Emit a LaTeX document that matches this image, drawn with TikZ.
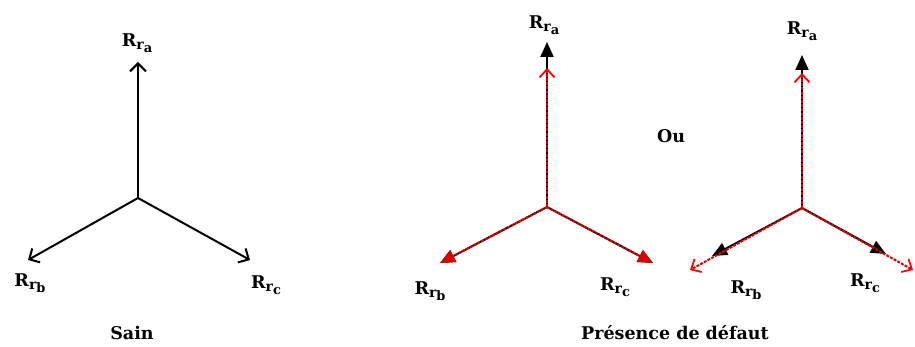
\documentclass[tikz,border=0pt]{standalone}
\usepackage{fontspec}
\setmainfont{DejaVu Serif}
\usetikzlibrary{arrows.meta}

\newcommand{\Rr}[1]{R\raisebox{-0.3ex}{\fontsize{14}{14}\selectfont r\raisebox{-0.45ex}{\fontsize{13}{13}\selectfont #1}}}

\tikzset{
	lbl/.style={font=\fontsize{17.5}{20}\selectfont\bfseries, inner sep=0pt},
	vecsain/.style={draw=black, line width=2pt, -{Straight Barb[length=8pt,width=16pt,line width=2pt]}},
	vecnoir/.style={draw=black, line width=2pt, -{Triangle[length=15pt,width=13pt]}},
	vecrouge/.style={draw=red!85!black, line width=2pt, dash pattern=on 3pt off 1.2pt, -{Straight Barb[length=8pt,width=15pt,line width=1.8pt,red]}},
	vecrougeplein/.style={draw=red!85!black, line width=2pt, dash pattern=on 3pt off 1.2pt, -{Triangle[length=15pt,width=13pt,red!85!black]}}
}

\begin{document}
\begin{tikzpicture}[x=1pt, y=-1pt]
	\useasboundingbox (0,0) rectangle (915,347);

	% 1. Sain - black star
	\coordinate (O1) at (138,198);
	\coordinate (a1) at (138,62);
	\coordinate (b1) at (28,260);
	\coordinate (c1) at (250,260);
	\draw[vecsain] (O1) -- (a1);
	\draw[vecsain] (O1) -- (b1);
	\draw[vecsain] (O1) -- (c1);
	\node[lbl] (la1) at (137,43) {\Rr{a}};
	\node[lbl] (lb1) at (30,283) {\Rr{b}};
	\node[lbl] (lc1) at (266,285) {\Rr{c}};
	\node[lbl] (sain) at (132,333) {Sain};

	% 2. Defaut - red star over black, only phase a differs
	\coordinate (O2) at (547,207);
	\coordinate (na2) at (547,42);
	\coordinate (ra2) at (547,68);
	\coordinate (b2) at (440,263);
	\coordinate (c2) at (653,263);
	\draw[vecnoir] (O2) -- (na2);
	\draw[vecnoir] (O2) -- (b2);
	\draw[vecnoir] (O2) -- (c2);
	\draw[vecrouge] (O2) -- (ra2);
	\draw[vecrougeplein] (O2) -- (b2);
	\draw[vecrougeplein] (O2) -- (c2);
	\node[lbl] (la2) at (544,25) {\Rr{a}};
	\node[lbl] (lb2) at (430,291) {\Rr{b}};
	\node[lbl] (lc2) at (615,287) {\Rr{c}};

	\node[lbl] (ou) at (671,136) {Ou};

	% 3. Defaut - all three phases differ
	\coordinate (O3) at (802,208);
	\coordinate (na3) at (802,55);
	\coordinate (nb3) at (712,256);
	\coordinate (nc3) at (886,254);
	\coordinate (ra3) at (802,73);
	\coordinate (rb3) at (690,270);
	\coordinate (rc3) at (913,270);
	\draw[vecnoir] (O3) -- (na3);
	\draw[vecnoir] (O3) -- (nb3);
	\draw[vecnoir] (O3) -- (nc3);
	\draw[vecrouge] (O3) -- (ra3);
	\draw[vecrouge] (O3) -- (rb3);
	\draw[vecrouge] (O3) -- (rc3);
	\node[lbl] (la3) at (802,31) {\Rr{a}};
	\node[lbl] (lb3) at (746,290) {\Rr{b}};
	\node[lbl] (lc3) at (865,283) {\Rr{c}};

	\node[lbl] (defaut) at (675,333) {Présence de défaut};
\end{tikzpicture}
\end{document}
